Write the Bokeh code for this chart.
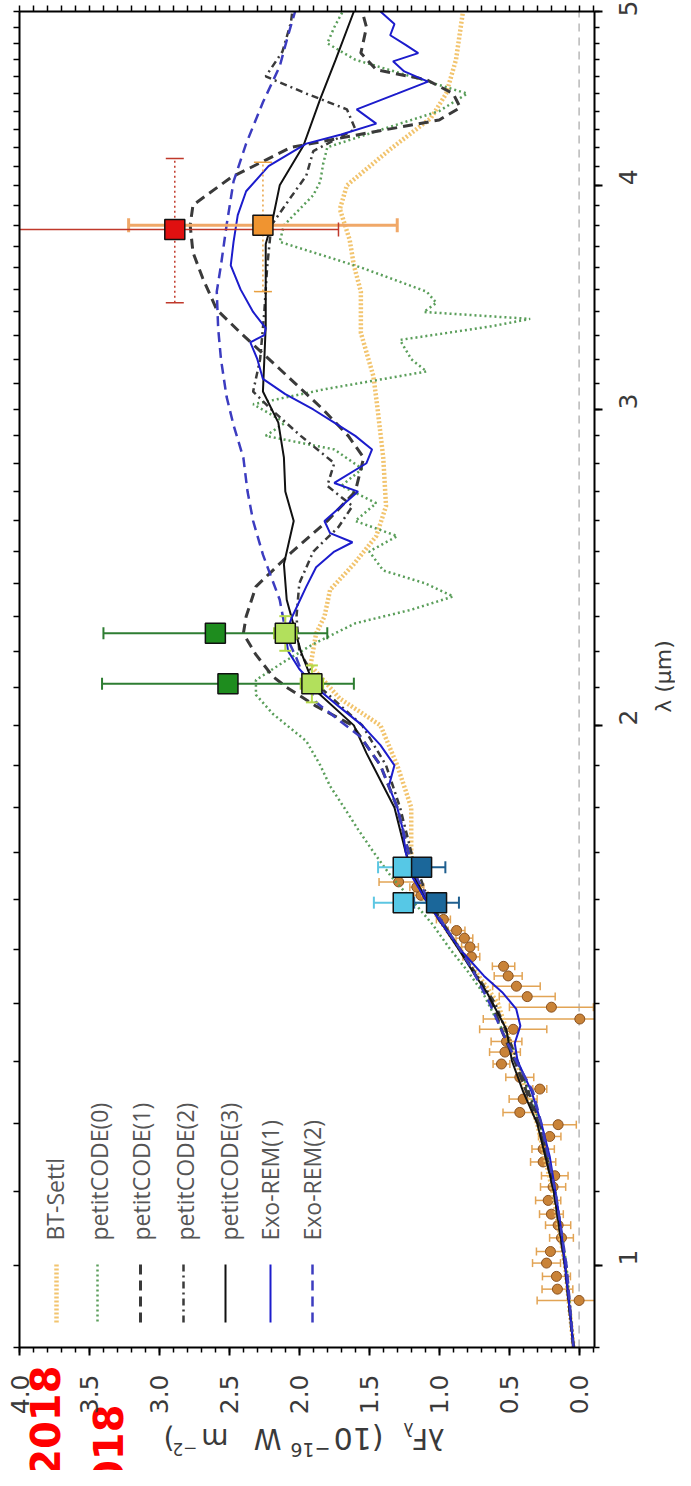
from math import pi, log, exp
from bokeh.plotting import figure
from bokeh.models import (Range1d, LinearAxis, LogAxis, FixedTicker, PrintfTickFormatter)
from bokeh.core.properties import value
from bokeh.embed import file_html
from bokeh.resources import INLINE

# ---------------- data ----------------
# IFS spectrum (brown circles): wavelength (um), lambda*F_lambda (1e-16 W m-2), error
spec_lam = [0.956, 0.970, 0.986, 1.003, 1.018, 1.036, 1.053, 1.068, 1.087, 1.106,
            1.122, 1.142, 1.161, 1.180, 1.198, 1.217, 1.238, 1.254, 1.273, 1.295,
            1.315, 1.333, 1.354, 1.372, 1.393, 1.412, 1.431, 1.450, 1.468, 1.486,
            1.505, 1.522, 1.537, 1.559, 1.608, 1.625, 1.636]
spec_flux = [0.00, 0.155, 0.162, 0.233, 0.205, 0.126, 0.150, 0.198, 0.221, 0.186,
             0.174, 0.257, 0.257, 0.210, 0.150, 0.424, 0.400, 0.281, 0.424, 0.555,
             0.530, 0.519, 0.471, -0.005, 0.198, 0.371, 0.448, 0.507, 0.540, 0.770,
             0.780, 0.820, 0.876, 0.970, 1.130, 1.160, 1.290]
spec_err = [0.30, 0.11, 0.10, 0.10, 0.10, 0.085, 0.09, 0.085, 0.09, 0.09,
            0.095, 0.09, 0.08, 0.08, 0.13, 0.12, 0.10, 0.05, 0.10, 0.06,
            0.11, 0.11, 0.24, 0.69, 0.30, 0.20, 0.17, 0.10, 0.08, 0.06,
            0.06, 0.06, 0.06, 0.05, 0.05, 0.05, 0.14]

# H2/H3 photometry
h_lam = [1.593, 1.667]
h_flux_light = [1.257, 1.257]
h_err_light = [0.21, 0.18]
h_flux_dark = [1.019, 1.126]
h_err_dark = [0.16, 0.17]

# K1/K2 photometry
k_lam = [2.110, 2.251]
k_flux_dark = [2.51, 2.60]
k_err_dark = [0.90, 0.80]
k_dlam_dark = [0.018, 0.018]
k_flux_light = [1.91, 2.10]
k_err_light = [0.08, 0.08]
k_dlam_light = [0.05, 0.05]

# L' photometry (red, orange)
l_lam = [3.78, 3.80]
l_flux = [2.89, 2.26]
l_err = [1.17, 0.96]
l_lam_lo = [3.44, 3.49]
l_lam_hi = [4.14, 4.12]

# model spectra
bt_lam = [0.90, 1.00, 1.10, 1.20, 1.25, 1.30, 1.40, 1.50, 1.60, 1.65, 1.70, 1.80,
          1.90, 2.00, 2.07, 2.16, 2.25, 2.30, 2.38, 2.46, 2.55, 2.65, 2.82, 3.00,
          3.13, 3.31, 3.49, 3.61, 3.73, 3.88, 4.00, 4.19, 4.36, 4.50, 4.70, 5.00]
bt_flux = [0.04, 0.10, 0.19, 0.30, 0.38, 0.45, 0.58, 0.85, 1.10, 1.18, 1.20, 1.20,
           1.30, 1.42, 1.71, 1.92, 1.88, 1.82, 1.78, 1.61, 1.45, 1.38, 1.40, 1.44,
           1.47, 1.56, 1.56, 1.61, 1.64, 1.71, 1.66, 1.35, 1.06, 0.95, 0.88, 0.83]

pc0_lam = [0.90, 1.00, 1.10, 1.20, 1.25, 1.32, 1.38, 1.42, 1.46, 1.50, 1.55, 1.60,
           1.65, 1.70, 1.75, 1.80, 1.85, 1.90, 1.96, 2.03, 2.08, 2.12, 2.17, 2.22,
           2.28, 2.32, 2.36, 2.40, 2.44, 2.50, 2.55, 2.60, 2.66, 2.72, 2.78, 2.85,
           2.90, 2.95, 3.02, 3.08, 3.15, 3.20, 3.28, 3.34, 3.37, 3.40, 3.44, 3.49,
           3.60, 3.72, 3.80, 3.85, 3.95, 4.02, 4.11, 4.20, 4.30, 4.40, 4.50, 4.60,
           4.70, 4.80, 4.90, 5.00]
pc0_flux = [0.04, 0.09, 0.17, 0.28, 0.36, 0.47, 0.61, 0.69, 0.80, 0.92, 1.05, 1.20,
            1.35, 1.47, 1.58, 1.68, 1.78, 1.85, 1.95, 2.19, 2.31, 2.31, 2.11, 1.90,
            1.60, 1.20, 0.90, 1.10, 1.40, 1.50, 1.30, 1.60, 1.45, 1.70, 1.55, 1.75,
            2.24, 2.10, 2.33, 1.81, 1.09, 1.20, 1.28, 0.61, 0.35, 1.11, 1.02, 1.09,
            1.56, 2.14, 2.11, 2.04, 1.90, 1.85, 1.83, 1.80, 1.40, 1.00, 0.80, 1.20,
            1.60, 1.80, 1.75, 1.69]

pc1_lam = [0.90, 1.00, 1.10, 1.20, 1.30, 1.35, 1.40, 1.50, 1.60, 1.65, 1.70, 1.80,
           1.90, 2.00, 2.05, 2.10, 2.13, 2.19, 2.25, 2.30, 2.39, 2.50, 2.60, 2.70,
           2.82, 2.90, 3.00, 3.16, 3.31, 3.41, 3.55, 3.67, 3.80, 3.90, 4.04, 4.20,
           4.28, 4.35, 4.42, 4.50, 4.58, 4.64, 4.74, 4.90, 5.00]
pc1_flux = [0.04, 0.10, 0.18, 0.29, 0.46, 0.55, 0.62, 0.85, 1.10, 1.18, 1.22, 1.30,
            1.42, 1.62, 1.88, 2.09, 2.19, 2.31, 2.40, 2.38, 2.31, 2.05, 1.80, 1.60,
            1.54, 1.65, 1.83, 2.14, 2.42, 2.59, 2.69, 2.76, 2.78, 2.76, 2.49, 2.06,
            1.50, 1.00, 0.85, 0.90, 1.09, 1.45, 1.56, 1.52, 1.55]

pc2_lam = [0.90, 1.00, 1.10, 1.20, 1.30, 1.40, 1.50, 1.60, 1.70, 1.80, 1.90, 2.00,
           2.10, 2.20, 2.30, 2.40, 2.50, 2.58, 2.65, 2.72, 2.80, 2.90, 3.00, 3.07,
           3.20, 3.40, 3.60, 3.80, 3.95, 4.05, 4.18, 4.30, 4.41, 4.50, 4.60, 4.75,
           4.93, 5.00]
pc2_flux = [0.04, 0.10, 0.18, 0.28, 0.44, 0.60, 0.85, 1.08, 1.20, 1.28, 1.38, 1.55,
            1.85, 2.00, 2.02, 2.00, 1.90, 1.72, 1.62, 1.80, 1.75, 1.99, 2.20, 2.33,
            2.28, 2.25, 2.23, 2.20, 2.05, 1.95, 1.90, 1.60, 1.66, 1.95, 2.24, 2.12,
            2.06, 2.05]

pc3_lam = [0.90, 1.00, 1.10, 1.20, 1.25, 1.30, 1.354, 1.42, 1.45, 1.50, 1.55, 1.60,
           1.65, 1.70, 1.80, 1.93, 2.00, 2.09, 2.20, 2.35, 2.46, 2.60, 2.70, 2.82,
           2.95, 3.07, 3.20, 3.34, 3.50, 3.71, 3.83, 4.00, 4.21, 4.47, 4.70, 5.00]
pc3_flux = [0.04, 0.10, 0.18, 0.30, 0.40, 0.48, 0.52, 0.66, 0.74, 0.86, 0.98, 1.10,
            1.18, 1.24, 1.32, 1.52, 1.61, 1.88, 1.99, 2.09, 2.11, 2.04, 2.10, 2.11,
            2.15, 2.26, 2.25, 2.24, 2.24, 2.24, 2.19, 2.14, 1.97, 1.85, 1.74, 1.61]

er1_lam = [0.90, 0.95, 1.00, 1.05, 1.10, 1.15, 1.20, 1.25, 1.28, 1.30, 1.33, 1.36,
           1.39, 1.42, 1.45, 1.50, 1.55, 1.60, 1.65, 1.70, 1.75, 1.80, 1.85, 1.90,
           1.95, 2.00, 2.05, 2.10, 2.15, 2.20, 2.25, 2.30, 2.39, 2.45, 2.50, 2.53,
           2.56, 2.60, 2.65, 2.70, 2.73, 2.80, 2.85, 2.90, 2.95, 3.00, 3.06, 3.12,
           3.20, 3.27, 3.30, 3.33, 3.40, 3.50, 3.61, 3.72, 3.85, 3.97, 4.10, 4.18,
           4.22, 4.27, 4.33, 4.41, 4.50, 4.57, 4.63, 4.69, 4.74, 4.79, 4.85, 4.92,
           5.00]
er1_flux = [0.04, 0.07, 0.10, 0.13, 0.17, 0.21, 0.27, 0.34, 0.40, 0.44, 0.46, 0.42,
            0.45, 0.55, 0.68, 0.85, 0.98, 1.10, 1.20, 1.24, 1.26, 1.30, 1.36, 1.32,
            1.42, 1.55, 1.72, 1.88, 2.00, 2.08, 2.10, 2.05, 1.95, 1.88, 1.75, 1.62,
            1.78, 1.82, 1.70, 1.58, 1.75, 1.52, 1.48, 1.60, 1.75, 1.90, 2.10, 2.26,
            2.30, 2.35, 2.25, 2.24, 2.33, 2.42, 2.49, 2.47, 2.44, 2.38, 2.22, 2.04,
            1.95, 1.70, 1.45, 1.59, 1.30, 1.08, 1.25, 1.33, 1.15, 1.24, 1.35, 1.32,
            1.42]

er2_lam = [0.90, 1.00, 1.10, 1.20, 1.25, 1.30, 1.35, 1.40, 1.46, 1.50, 1.55, 1.60,
           1.65, 1.70, 1.80, 1.90, 1.97, 2.06, 2.12, 2.18, 2.24, 2.35, 2.43, 2.49,
           2.60, 2.70, 2.82, 2.94, 3.05, 3.20, 3.33, 3.49, 3.61, 3.80, 4.02, 4.22,
           4.45, 4.66, 4.85, 5.00]
er2_flux = [0.04, 0.09, 0.17, 0.27, 0.33, 0.45, 0.55, 0.64, 0.76, 0.85, 0.97, 1.08,
            1.17, 1.22, 1.30, 1.42, 1.56, 1.88, 1.96, 2.02, 2.09, 2.14, 2.21, 2.26,
            2.33, 2.37, 2.40, 2.47, 2.52, 2.56, 2.58, 2.59, 2.56, 2.52, 2.47, 2.38,
            2.26, 2.14, 2.08, 2.03]

model_names = ["BT-Settl", "petitCODE(0)", "petitCODE(1)", "petitCODE(2)",
               "petitCODE(3)", "Exo-REM(1)", "Exo-REM(2)"]

flux_ticks = [0.0, 0.5, 1.0, 1.5, 2.0, 2.5, 3.0, 3.5, 4.0]
flux_minor = [round(-0.1 + 0.1 * i, 2) for i in range(42)]
lam_ticks = [1, 2, 3, 4, 5]
lam_minor = [round(0.9 + 0.1 * i, 2) for i in range(42)]

for a, b in [(spec_lam, spec_flux), (spec_lam, spec_err), (bt_lam, bt_flux),
             (pc0_lam, pc0_flux), (pc1_lam, pc1_flux), (pc2_lam, pc2_flux),
             (pc3_lam, pc3_flux), (er1_lam, er1_flux), (er2_lam, er2_flux)]:
    assert len(a) == len(b), (len(a), len(b))

# ---------------- layout ----------------
# The frame fills the whole canvas; the visible plot box (the axes) sits inside it.
W, H = 675, 1470
FL, FR, FT, FB = 19, 594, 11, 1347          # plot box edges in canvas pixels
XMAX, XMIN = 4.0, -0.11                      # flux at the box's left / right edges
YMIN, YMAX = 0.9, 5.0                        # wavelength at the box's bottom / top
MARGIN = 8
FONT = "DejaVu Sans"
GREY = "#3a3a3a"


def fx(px):
    return XMAX + (px - FL) / (FR - FL) * (XMIN - XMAX)


def fy(py):
    return exp(log(YMAX) - (py - FT) / (FB - FT) * (log(YMAX) - log(YMIN)))


def dx(img_x):
    return fx(img_x - MARGIN)


def dy(img_y):
    return fy(img_y - MARGIN)


X_LEFT, X_RIGHT = fx(0), fx(W)
Y_TOP, Y_BOT = fy(0), fy(H)

p = figure(width=W, height=H, x_range=Range1d(X_LEFT, X_RIGHT),
           y_range=Range1d(Y_BOT, Y_TOP), y_axis_type="log",
           x_axis_location=None, y_axis_location=None,
           output_backend="svg", toolbar_location=None, min_border=0)
p.grid.visible = False
p.outline_line_color = None
p.background_fill_color = "white"
p.border_fill_color = "white"


def base_style(ax):
    ax.axis_line_color = "black"
    ax.axis_line_width = 2
    ax.major_tick_line_color = "black"
    ax.major_tick_line_width = 2
    ax.minor_tick_line_color = "black"
    ax.minor_tick_line_width = 1.5
    ax.major_tick_in = 0
    ax.major_tick_out = 8
    ax.minor_tick_in = 0
    ax.minor_tick_out = 5
    ax.major_label_text_font = FONT
    ax.major_label_text_font_size = "25px"
    ax.major_label_text_color = GREY
    ax.major_label_orientation = pi / 2


# bottom (flux) axis with labels
ax_b = LinearAxis(fixed_location=YMIN, bounds=(XMIN, XMAX))
base_style(ax_b)
ax_b.ticker = FixedTicker(ticks=flux_ticks, minor_ticks=flux_minor)
ax_b.formatter = PrintfTickFormatter(format="%.1f")
ax_b.major_label_standoff = 19
p.add_layout(ax_b, "below")

# right (wavelength) axis with labels
ax_r = LogAxis(fixed_location=XMIN, bounds=(YMIN, YMAX))
base_style(ax_r)
ax_r.ticker = FixedTicker(ticks=lam_ticks, minor_ticks=lam_minor)
ax_r.formatter = PrintfTickFormatter(format="%d")
ax_r.major_label_standoff = 26
p.add_layout(ax_r, "right")

# mirrored tick marks (no labels) on the top and left of the box
ax_t = LinearAxis(fixed_location=YMAX, bounds=(XMIN, XMAX))
base_style(ax_t)
ax_t.ticker = FixedTicker(ticks=[], minor_ticks=sorted(set(flux_ticks + flux_minor)))
ax_t.minor_tick_out = 6
p.add_layout(ax_t, "above")

ax_l = LogAxis(fixed_location=XMAX, bounds=(YMIN, YMAX))
base_style(ax_l)
ax_l.ticker = FixedTicker(ticks=[], minor_ticks=sorted(set(lam_ticks + lam_minor)))
ax_l.minor_tick_out = 6
p.add_layout(ax_l, "left")

# zero line
p.line(x=[0, 0], y=[YMIN, YMAX], line_color="#b8b8b8", line_dash="8 6", line_width=1.5)

# ---- spectrum points ----
s_lo = [f - e for f, e in zip(spec_flux, spec_err)]
s_hi = [f + e for f, e in zip(spec_flux, spec_err)]
p.segment(x0=s_lo, y0=spec_lam, x1=s_hi, y1=spec_lam, line_color="#e2a455", line_width=1.5)
p.scatter(x=s_lo + s_hi, y=spec_lam + spec_lam, marker="dash", angle=pi / 2, size=8,
          line_color="#e2a455", line_width=1.5)
p.scatter(x=spec_flux, y=spec_lam, marker="circle", size=10, fill_color="#c98338",
          line_color="#8a5220", line_width=1)

# ---- model curves ----
styles = [
    (bt_lam, bt_flux, "#f2c46e", 4.5, "2 2"),
    (pc0_lam, pc0_flux, "#5a9e5a", 2.5, "2 3"),
    (pc1_lam, pc1_flux, "#3a3a3a", 3, "10 6"),
    (pc2_lam, pc2_flux, "#3a3a3a", 2.5, "7 4 2 4"),
    (pc3_lam, pc3_flux, "#111111", 2, "solid"),
    (er1_lam, er1_flux, "#1c1ccc", 2, "solid"),
    (er2_lam, er2_flux, "#3c3cc0", 2.5, "10 6"),
]
for lam, flux, col, lw, dash in styles:
    p.line(x=flux, y=lam, line_color=col, line_width=lw, line_dash=dash)


# ---- photometry ----
def flux_err(lam, flux, err, color, lw=2, cap=12):
    lo = [f - e for f, e in zip(flux, err)]
    hi = [f + e for f, e in zip(flux, err)]
    p.segment(x0=lo, y0=lam, x1=hi, y1=lam, line_color=color, line_width=lw)
    p.scatter(x=lo + hi, y=list(lam) + list(lam), marker="dash", angle=pi / 2,
              size=cap, line_color=color, line_width=lw)


def lam_err(flux, lo, hi, color, lw=2, cap=14, dash="solid"):
    p.segment(x0=flux, y0=lo, x1=flux, y1=hi, line_color=color, line_width=lw,
              line_dash=dash)
    p.scatter(x=list(flux) + list(flux), y=list(lo) + list(hi), marker="dash",
              size=cap, line_color=color, line_width=lw)


def squares(lam, flux, color):
    p.scatter(x=flux, y=lam, marker="square", size=20, fill_color=color,
              line_color="#111111", line_width=1.5)


flux_err(h_lam, h_flux_light, h_err_light, "#5cc6e2")
flux_err(h_lam, h_flux_dark, h_err_dark, "#1f5f8f")
squares(h_lam, h_flux_light, "#56c8e6")
squares(h_lam, h_flux_dark, "#1b679a")

flux_err(k_lam, k_flux_dark, k_err_dark, "#2e7d32")
lam_err(k_flux_dark, [l - d for l, d in zip(k_lam, k_dlam_dark)],
        [l + d for l, d in zip(k_lam, k_dlam_dark)], "#2e7d32", cap=12)
flux_err(k_lam, k_flux_light, k_err_light, "#9acd32")
lam_err(k_flux_light, [l - d for l, d in zip(k_lam, k_dlam_light)],
        [l + d for l, d in zip(k_lam, k_dlam_light)], "#b5d94a", cap=12)
squares(k_lam, k_flux_dark, "#1e8c1e")
squares(k_lam, k_flux_light, "#b2e05c")

lam_err([l_flux[0]], [l_lam_lo[0]], [l_lam_hi[0]], "#c0392b", lw=1.5, cap=18, dash="2 3")
lam_err([l_flux[1]], [l_lam_lo[1]], [l_lam_hi[1]], "#e8a040", lw=1.5, cap=18, dash="2 3")
flux_err([l_lam[1]], [l_flux[1]], [l_err[1]], "#f0a868", lw=3, cap=14)
flux_err([l_lam[0]], [l_flux[0]], [l_err[0]], "#c0392b", lw=1.5, cap=14)
squares([l_lam[1]], [l_flux[1]], "#f09430")
squares([l_lam[0]], [l_flux[0]], "#e01010")

# ---- white masks: keep data marks inside the plot box ----
p.quad(left=[XMIN, X_LEFT, X_LEFT, X_LEFT], right=[X_RIGHT, XMAX, X_RIGHT, X_RIGHT],
       bottom=[Y_BOT, Y_BOT, Y_BOT, YMAX], top=[Y_TOP, Y_TOP, YMIN, Y_TOP],
       fill_color="white", line_color=None)

# ---- legend (rotated) ----
leg_text_x = [62, 106, 148, 192, 236, 277, 319]
leg_line_x = [64, 105, 148, 191, 233, 278, 320]
p.text(x=[dx(v) for v in leg_text_x], y=[dy(1248)] * 7, text=model_names,
       angle=pi / 2, text_font=value("Open Sans"), text_font_size="23px",
       text_color="#555555", text_align="left", text_baseline="middle")
for (lam, flux, col, lw, dash), lx in zip(styles, leg_line_x):
    p.line(x=[dx(lx), dx(lx)], y=[dy(1272), dy(1330)], line_color=col,
           line_width=lw, line_dash=dash)


# ---- axis titles and watermark ----
def txt(text, img_x, img_y, size, angle, align="left", color=GREY, bold=False):
    p.text(x=[dx(img_x)], y=[dy(img_y)], text=[text], angle=angle,
           text_font=value(FONT), text_font_size=size, text_color=color,
           text_align=align, text_baseline="middle",
           text_font_style="bold" if bold else "normal")


# y title of the original chart, upside down below the box
txt("\u03bbF", 452, 1446, "28px", pi)
txt("\u03bb", 421, 1436, "17px", pi)
txt("(10", 391, 1446, "30px", pi)
txt("\u221216", 338, 1457, "19px", pi)
txt("W", 289, 1446, "28px", pi)
txt("m", 236, 1446, "28px", pi)
txt("\u22122", 205, 1457, "17px", pi)
txt(")", 182, 1446, "28px", pi)

# x title of the original chart, right side
txt("\u03bb (\u03bcm)", 671, 684, "22px", pi / 2, align="center")

# red watermark
txt("2018", 52, 1373, "40px", pi / 2, align="right", color="#ff0000", bold=True)
txt("2018", 115, 1412, "40px", pi / 2, align="right", color="#ff0000", bold=True)

open("out.html", "w").write(file_html(p, INLINE, title="SED"))
